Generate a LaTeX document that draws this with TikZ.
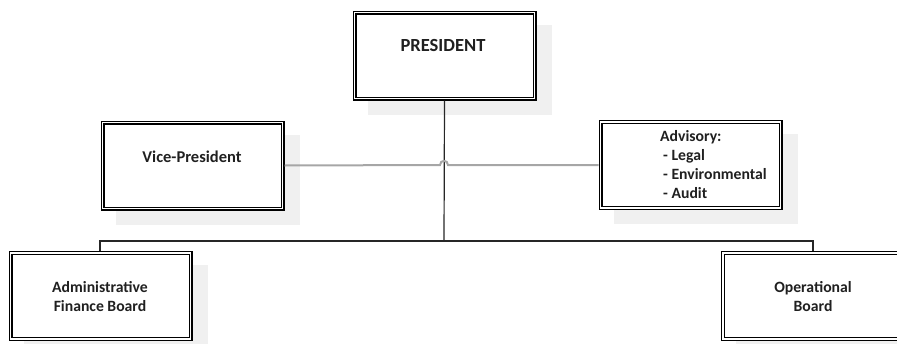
\documentclass[tikz,border=0pt]{standalone}
\usepackage{fontspec}
\setmainfont{Carlito}
\usetikzlibrary{backgrounds}
\definecolor{shadowgray}{HTML}{F0F0F0}
\definecolor{txt}{HTML}{202020}
\definecolor{hopgray}{HTML}{A6A6A6}
\begin{document}
\begin{tikzpicture}[x=1pt,y=-1pt,
  orgbox/.style={draw=black, fill=white, line width=1.1pt, double=white, double distance=1.8pt,
    minimum width=180pt, minimum height=86pt, inner sep=0pt, outer sep=2pt},
  lbl/.style={font=\bfseries\fontsize{15.7}{19}\selectfont, text=txt, inner sep=0pt},
  conn/.style={draw=black!85, line width=1.2pt},
  grayconn/.style={draw=hopgray, line width=2pt},
  shadow/.style={fill=shadowgray}
]
\useasboundingbox (0,0) rectangle (897,343);
% boxes
\node[orgbox] (pres) at (444.5,55.5) {};
\node[orgbox] (vp) at (192.5,165.5) {};
\node[orgbox] (adv) at (690.5,165) {};
\node[orgbox] (adm) at (100.5,296) {};
\node[orgbox] (ops) at (813,296) {};
% shadows
\begin{pgfonlayer}{background}
\foreach \b in {pres,vp,adv,adm,ops}{
  \fill[shadow] ([shift={(15,14)}]\b.south west) rectangle ([shift={(15,14)}]\b.north east);
}
\end{pgfonlayer}
% labels
\node[lbl, font=\bfseries\fontsize{18.5}{20}\selectfont] (tpres) at (443,45) {PRESIDENT};
\node[lbl, font=\bfseries\fontsize{16.5}{19}\selectfont] (tvp) at (192,157) {Vice-President};
\node[lbl, align=left, anchor=west] (tadv) at (660,165) {Advisory:\\\hspace*{3pt}- Legal\\\hspace*{3pt}- Environmental\\\hspace*{3pt}- Audit};
\node[lbl, align=center] (tadm) at (100,296.5) {Administrative\\Finance Board};
\node[lbl, align=center] (tops) at (813,296.5) {Operational\\Board};
% connectors
\coordinate (bus) at (444,241);
\coordinate (busL) at (100,241);
\coordinate (busR) at (813,241);
\coordinate (hopA) at (440,165);
\coordinate (hopB) at (448,165);
\draw[conn] (pres.south) -- (bus);
\draw[conn] (adm.north -| busL) -- (busL) -- (busR) -- (ops.north -| busR);
\draw[grayconn] (vp.east) -- (hopA) .. controls (440,159.5) and (448,159.5) .. (hopB) -- (adv.west);
\end{tikzpicture}
\end{document}
